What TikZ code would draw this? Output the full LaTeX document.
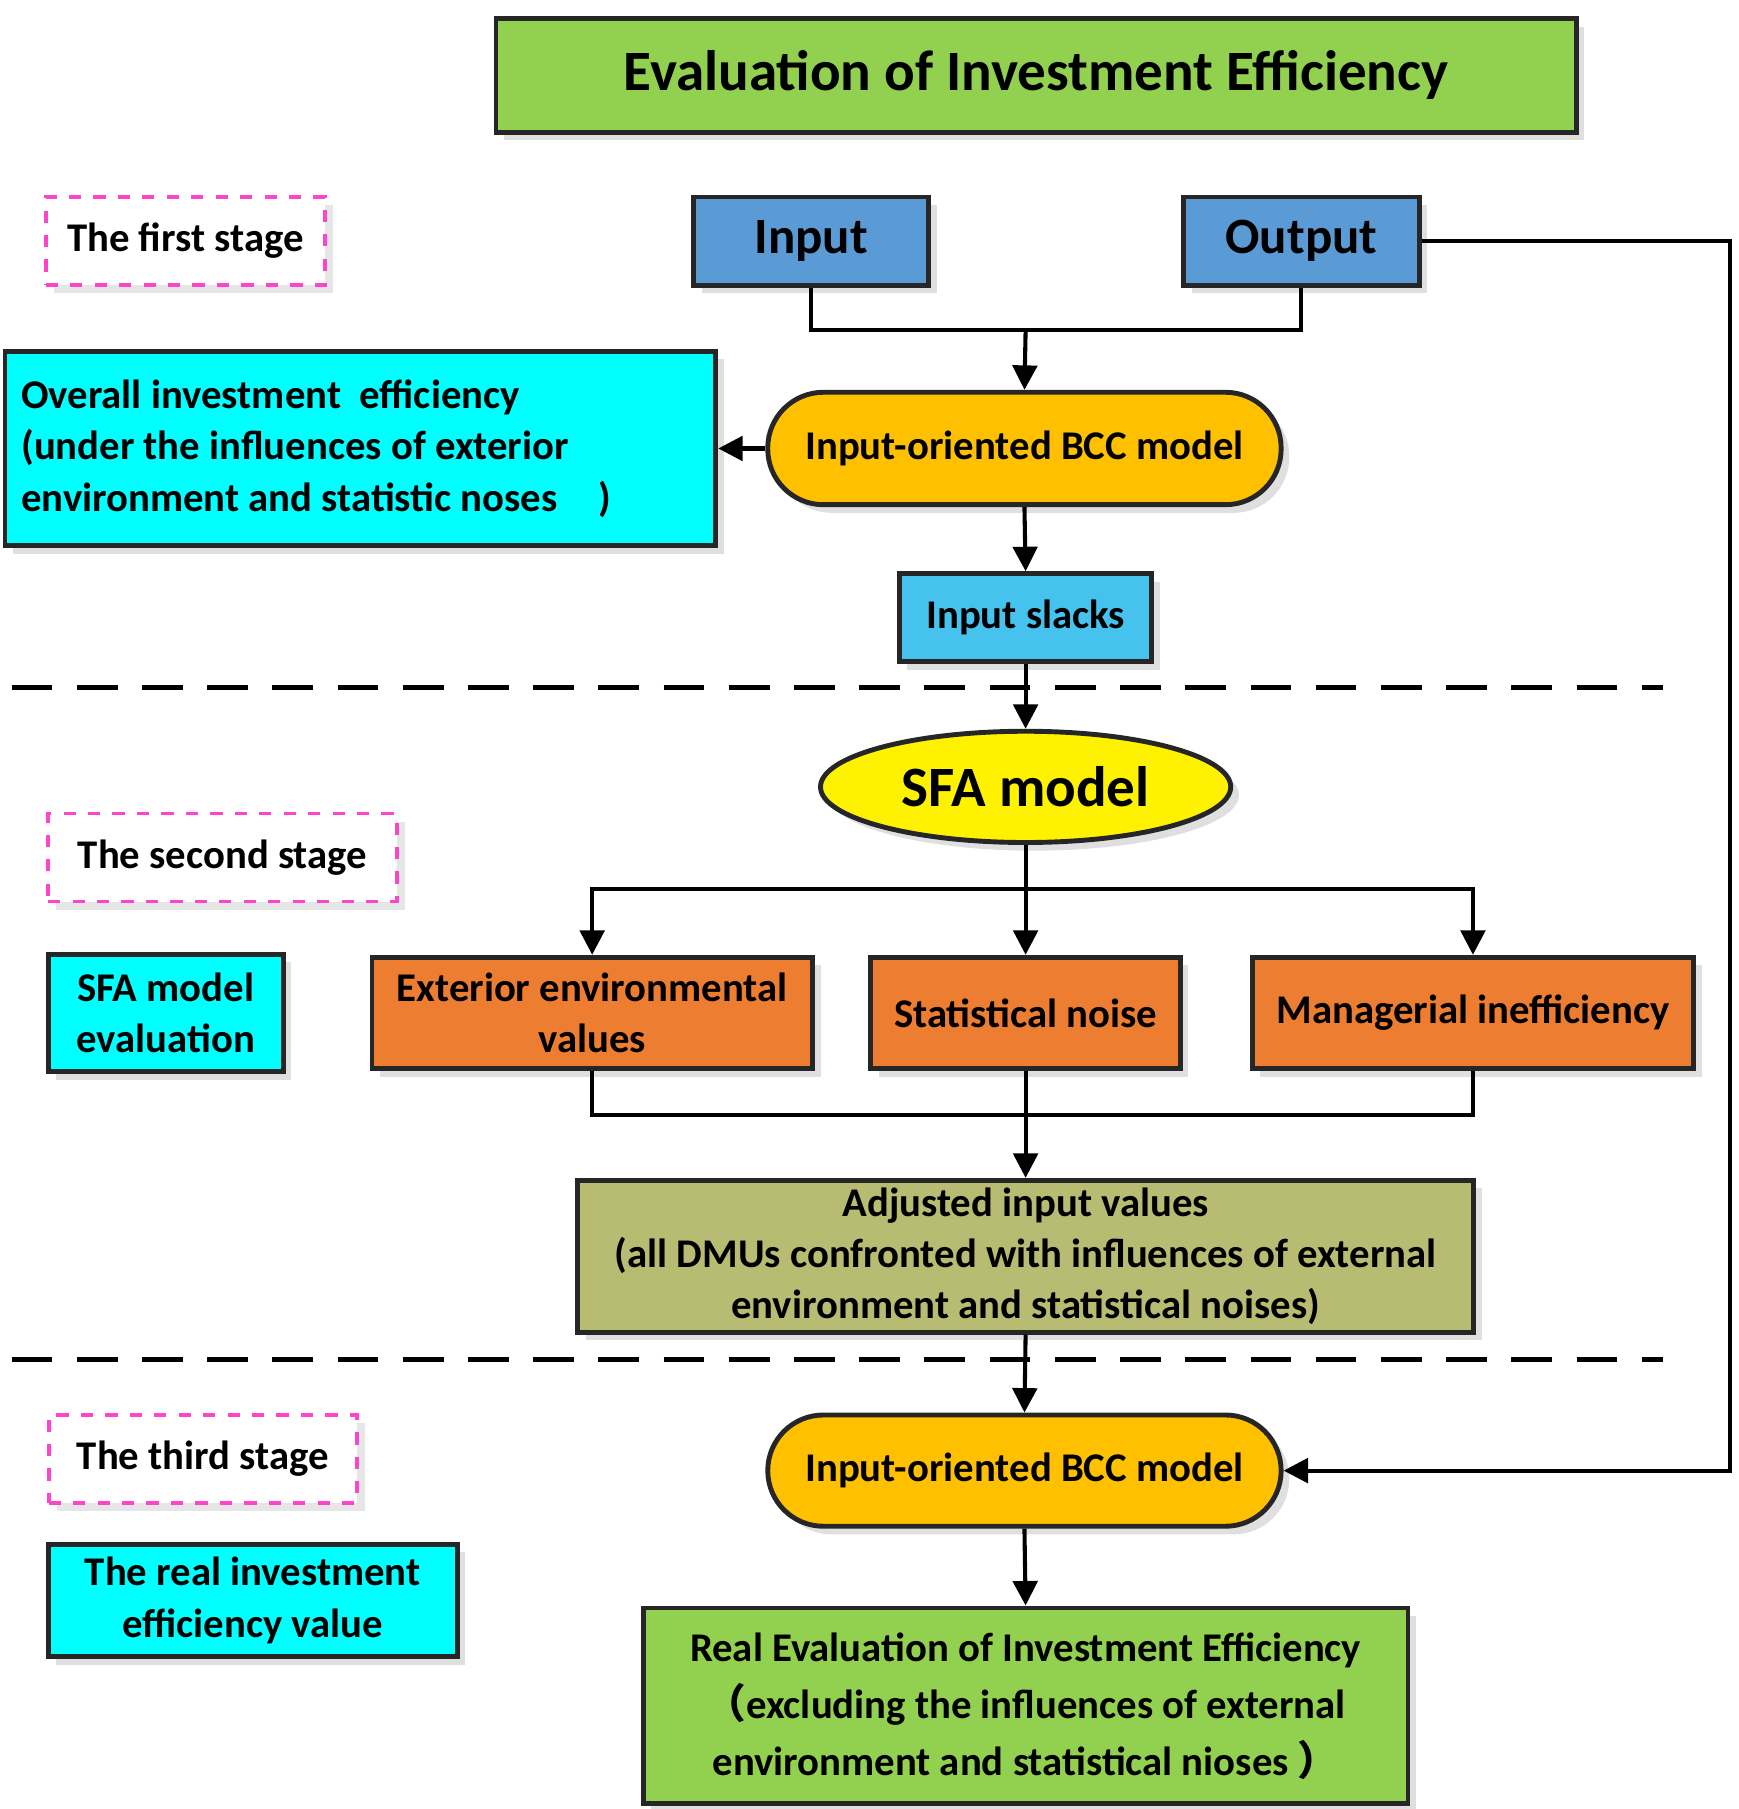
\documentclass[tikz,border=0pt]{standalone}
\usepackage{fontspec}
\setmainfont{Carlito}
\newfontfamily\cjk{Noto Sans CJK SC}
\usetikzlibrary{shapes.geometric,arrows.meta,shadows}
\definecolor{tgreen}{HTML}{92D050}
\definecolor{tblue}{HTML}{5B9BD5}
\definecolor{tcyan}{HTML}{00FFFF}
\definecolor{torange}{HTML}{FFC000}
\definecolor{tsky}{HTML}{45C3EE}
\definecolor{tor2}{HTML}{ED7D31}
\definecolor{tolive}{HTML}{B8BC72}
\definecolor{tpink}{HTML}{FF44CC}
\begin{document}
\begin{tikzpicture}[x=0.01cm,y=-0.01cm,
 box/.style={draw=black!85,line width=1.2pt,inner sep=0pt,font=\bfseries,align=center,drop shadow={opacity=0.25,shadow xshift=2pt,shadow yshift=-2pt}},
 stage/.style={draw=tpink,dashed,line width=0.9pt,fill=white,inner sep=0pt,font=\bfseries\fontsize{10}{12}\selectfont,drop shadow={opacity=0.2,shadow xshift=2pt,shadow yshift=-2pt}},
 arr/.style={-{Triangle[length=6pt,width=6pt]},line width=1pt},
 ln/.style={line width=1pt},
 dline/.style={line width=1.3pt,dash pattern=on 10pt off 6pt}]
\useasboundingbox (0,0) rectangle (1500,1561);
\node[box,fill=tgreen,minimum width=932*0.01cm,minimum height=98*0.01cm,font=\bfseries\fontsize{14}{16}\selectfont] (title) at (894,65) {Evaluation of Investment Efficiency};
\node[stage,minimum width=241*0.01cm,minimum height=76*0.01cm] (s1) at (160,208) {The first stage};
\node[box,fill=tblue,minimum width=203*0.01cm,minimum height=76*0.01cm,font=\bfseries\fontsize{12.5}{14}\selectfont] (in) at (700,208) {Input};
\node[box,fill=tblue,minimum width=203*0.01cm,minimum height=76*0.01cm,font=\bfseries\fontsize{12.5}{14}\selectfont] (out) at (1123,208) {Output};
\node[box,fill=tcyan,minimum width=543*0.01cm,minimum height=168*0.01cm,align=left,inner xsep=4pt,font=\bfseries\fontsize{10}{12.6}\selectfont] (ov) at (311,387) {Overall investment\ \ efficiency\hspace*{1.55cm}\\(under the influences of exterior\\environment and statistic noses\quad)};
\node[box,fill=torange,rounded corners=48*0.01cm,minimum width=443*0.01cm,minimum height=97*0.01cm,font=\bfseries\fontsize{10}{12}\selectfont] (bcc1) at (884,387) {Input-oriented BCC model};
\node[box,fill=tsky,minimum width=218*0.01cm,minimum height=76*0.01cm,font=\bfseries\fontsize{10}{12}\selectfont] (slk) at (885,533) {Input slacks};
\draw[dline] (10,593) -- (1435,593);
\node[box,fill=yellow,ellipse,minimum width=354*0.01cm,minimum height=96*0.01cm,font=\bfseries\fontsize{14}{16}\selectfont] (sfa) at (885,679) {SFA model};
\node[stage,minimum width=301*0.01cm,minimum height=76*0.01cm] (s2) at (192,740) {The second stage};
\node[box,fill=tcyan,minimum width=203*0.01cm,minimum height=101*0.01cm,font=\bfseries\fontsize{10}{12.6}\selectfont] (sfae) at (143,874) {SFA model\\evaluation};
\node[box,fill=tor2,minimum width=380*0.01cm,minimum height=96*0.01cm,font=\bfseries\fontsize{10}{12.6}\selectfont] (ext) at (511,874) {Exterior environmental\\values};
\node[box,fill=tor2,minimum width=267*0.01cm,minimum height=96*0.01cm,font=\bfseries\fontsize{10}{12}\selectfont] (sn) at (885,874) {Statistical noise};
\node[box,fill=tor2,minimum width=381*0.01cm,minimum height=96*0.01cm,font=\bfseries\fontsize{10}{12}\selectfont] (man) at (1271,874) {Managerial inefficiency};
\node[box,fill=tolive,minimum width=773*0.01cm,minimum height=131*0.01cm,font=\bfseries\fontsize{10}{12.6}\selectfont] (adj) at (885,1084) {Adjusted input values\\(all DMUs confronted with influences of external\\environment and statistical noises)};
\draw[dline] (10,1173) -- (1435,1173);
\node[stage,minimum width=266*0.01cm,minimum height=76*0.01cm] (s3) at (175,1259) {The third stage};
\node[box,fill=tcyan,minimum width=353*0.01cm,minimum height=97*0.01cm,font=\bfseries\fontsize{10}{12.6}\selectfont] (real) at (218,1381) {The real investment\\efficiency value};
\node[box,fill=torange,rounded corners=48*0.01cm,minimum width=443*0.01cm,minimum height=96*0.01cm,font=\bfseries\fontsize{10}{12}\selectfont] (bcc2) at (884,1269) {Input-oriented BCC model};
\node[box,fill=tgreen,minimum width=660*0.01cm,minimum height=169*0.01cm,font=\bfseries\fontsize{10}{14}\selectfont] (re) at (885,1472) {Real Evaluation of Investment Efficiency\\{\cjk （}excluding the influences of external\\environment and statistical nioses {\cjk ）}};
\coordinate (j1) at (885,285);
\draw[ln] (in.south) |- (j1) -| (out.south);
\draw[arr] (j1) -- (bcc1.north);
\draw[arr] (bcc1.west) -- (ov.east);
\draw[arr] (bcc1.south) -- (slk.north);
\draw[arr] (slk.south) -- (sfa.north);
\coordinate (j2) at (885,767);
\draw[ln] (sfa.south) -- (j2);
\draw[arr] (j2) -- (sn.north);
\draw[arr] (j2) -| (ext.north);
\draw[arr] (j2) -| (man.north);
\coordinate (j3) at (885,962);
\draw[ln] (ext.south) |- (j3) -| (man.south);
\draw[arr] (sn.south) -- (adj.north);
\draw[arr] (adj.south) -- (bcc2.north);
\draw[arr] (bcc2.south) -- (re.north);
\coordinate (c1) at (1493,208);
\coordinate (c2) at (1493,1269);
\draw[arr] (out.east) -- (c1) -- (c2) -- (bcc2.east);
\end{tikzpicture}
\end{document}
